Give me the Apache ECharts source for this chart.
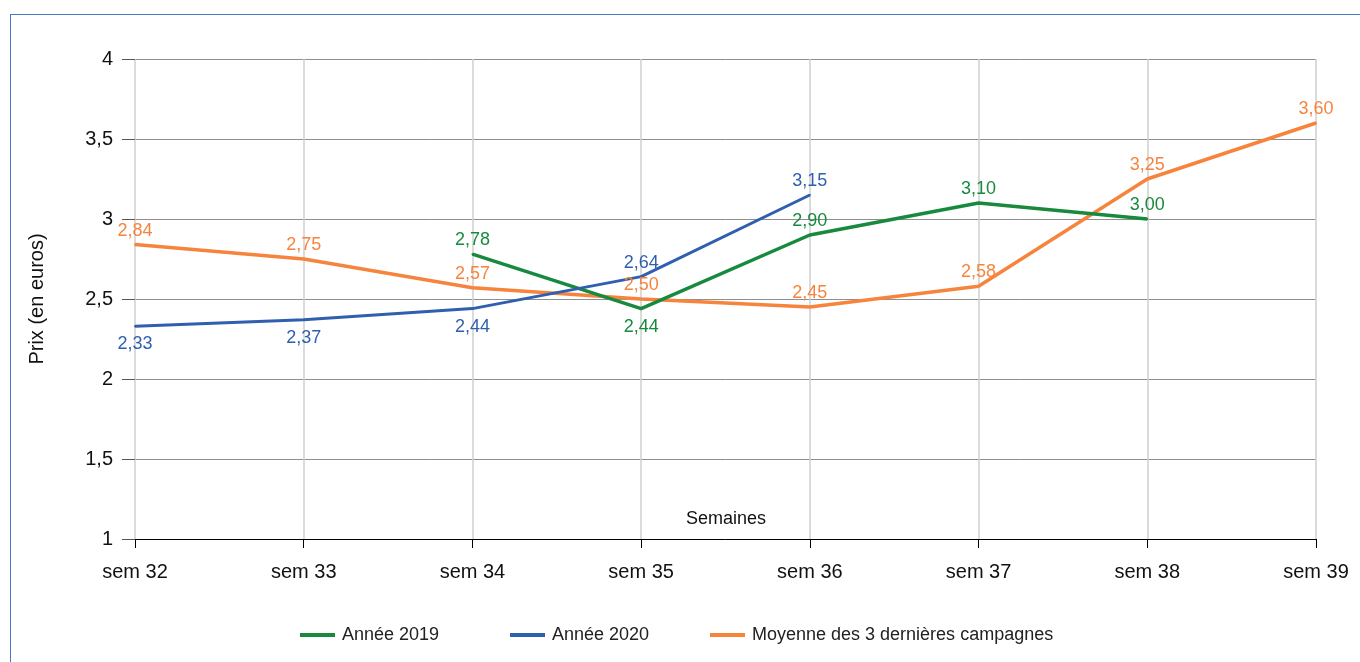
<!DOCTYPE html>
<html><head><meta charset="utf-8">
<script src="https://cdn.jsdelivr.net/npm/echarts@6/dist/echarts.min.js"></script>
<style>
html,body{margin:0;padding:0;background:#fff;overflow:hidden}
#frame{position:absolute;left:10px;top:14px;width:1400px;height:700px;border:1.5px solid #4a78c8;box-sizing:border-box}
#c{position:absolute;left:0;top:0;width:1360px;height:662px}
</style></head><body>
<div id="frame"></div>
<div id="c"></div>
<script>
const categories = ['sem 32','sem 33','sem 34','sem 35','sem 36','sem 37','sem 38','sem 39'];
const serie2019 = [null, null, 2.78, 2.44, 2.90, 3.10, 3.00, null];
const serie2020 = [2.33, 2.37, 2.44, 2.64, 3.15, null, null, null];
const moyenne = [2.84, 2.75, 2.57, 2.50, 2.45, 2.58, 3.25, 3.60];
const names = ['Année 2019', 'Année 2020', 'Moyenne des 3 dernières campagnes'];
const yTitle = 'Prix (en euros)';
const xTitle = 'Semaines';

const colors = ['#178a3e', '#2f5fae', '#f7843d'];
const below = [[3], [0, 1, 2], []];
const legendLeft = [300, 510, 710];
const FONT = '"Liberation Sans", Arial, sans-serif';

function fmt(v){ return v.toFixed(2).replace('.', ','); }

function mkSeries(idx, vals, width){
  return {
    name: names[idx], type: 'line', color: colors[idx],
    symbol: 'circle', symbolSize: 2, showSymbol: true,
    lineStyle: {width: width, color: colors[idx]},
    itemStyle: {color: colors[idx]},
    emphasis: {disabled: true},
    animation: false,
    data: vals.map((v, i) => v == null ? '-' : {
      value: v,
      label: {
        show: true,
        position: below[idx].includes(i) ? 'bottom' : 'top',
        distance: below[idx].includes(i) ? 8 : 4,
        formatter: p => fmt(p.value),
        color: colors[idx], fontSize: 18, fontFamily: FONT
      }
    })
  };
}

const chart = echarts.init(document.getElementById('c'), null, {renderer: 'canvas'});
chart.setOption({
  backgroundColor: 'transparent',
  animation: false,
  grid: {left: 135, right: 44, top: 59, bottom: 123, containLabel: false},
  legend: names.map((n, i) => ({
    data: [n], left: legendLeft[i], top: 626, padding: 0, icon: 'rect', itemWidth: 35, itemHeight: 4,
    itemGap: 0, textStyle: {fontSize: 18, fontFamily: FONT, color: '#222', padding: [0, 0, 0, 2]},
    selectedMode: false
  })),
  xAxis: {
    type: 'category', data: categories, boundaryGap: false,
    axisLine: {show: true, lineStyle: {color: '#000', width: 1}},
    axisTick: {show: true, length: 9, lineStyle: {color: '#000'}, alignWithLabel: true},
    axisLabel: {fontSize: 20, fontFamily: FONT, color: '#111', margin: 23},
    splitLine: {show: true, lineStyle: {color: '#cfcfcf', width: 1.5}}
  },
  yAxis: {
    type: 'value', min: 1, max: 4, interval: 0.5,
    name: yTitle, nameLocation: 'middle', nameRotate: 90, nameGap: 88,
    nameTextStyle: {fontSize: 20, fontFamily: FONT, color: '#111'},
    axisLine: {show: false},
    axisTick: {show: true, inside: false, length: 13, lineStyle: {color: '#555'}},
    axisLabel: {fontSize: 20, fontFamily: FONT, color: '#111', margin: 22,
      formatter: v => String(v).replace('.', ',')},
    splitLine: {show: true, lineStyle: {color: '#8f8f8f', width: 1}}
  },
  graphic: [{
    type: 'text', x: 726, y: 519,
    style: {text: xTitle, fontSize: 18, fontFamily: FONT, fill: '#111',
      align: 'center', verticalAlign: 'middle'}
  }],
  series: [
    mkSeries(2, moyenne, 3.5),
    mkSeries(0, serie2019, 3.5),
    mkSeries(1, serie2020, 3)
  ]
});
</script>
</body></html>
